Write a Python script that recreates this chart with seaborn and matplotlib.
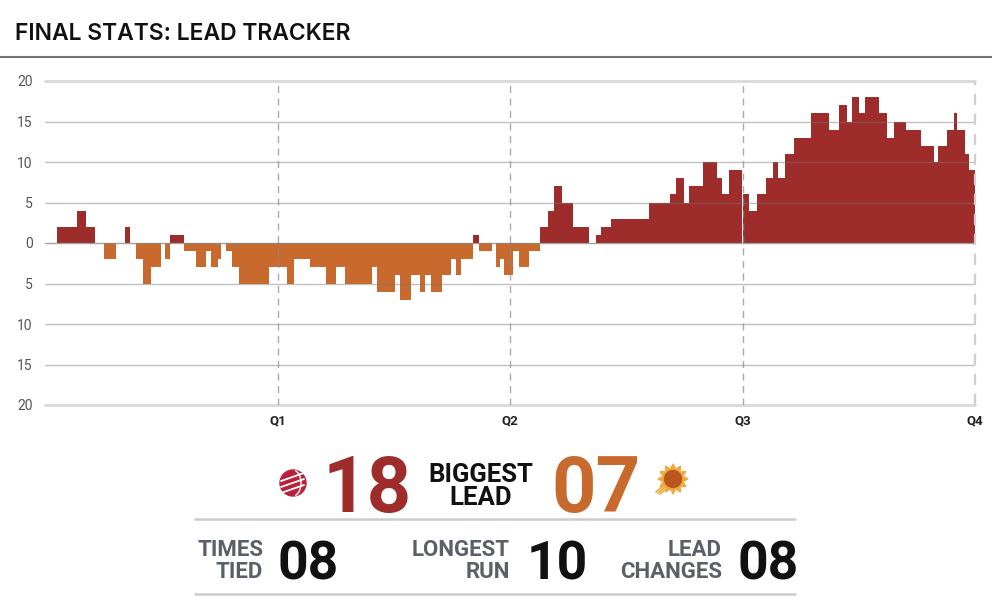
import numpy as np
import pandas as pd
import matplotlib.pyplot as plt
import matplotlib.patches as mpatches
import seaborn as sns

# lead tracker: game minute where each stretch starts, and Raptors margin (neg = Suns lead)
lead_start = [0.00, 0.60, 1.67, 2.10, 2.58, 3.05, 3.68, 4.13, 4.40, 4.71,
              5.07, 5.46, 5.97, 6.21, 6.45, 7.16, 7.81, 8.29, 8.58, 8.91,
              9.07, 9.34, 9.67, 10.03, 11.58, 12.51, 12.87, 13.68, 14.50, 15.02,
              15.48, 16.89, 17.15, 18.06, 18.34, 18.89, 19.35, 19.63, 19.92, 20.51,
              20.94, 21.23, 21.46, 22.11, 22.40, 23.09, 23.26, 23.48, 23.71, 24.17,
              24.46, 24.98, 25.55, 25.95, 26.26, 26.68, 27.25, 28.09, 28.42, 28.68,
              29.20, 31.17, 32.24, 32.57, 32.98, 33.24, 33.95, 34.68, 34.96, 35.29,
              36.00, 36.34, 36.73, 37.20, 37.59, 37.82, 38.21, 38.64, 39.52, 40.48,
              40.98, 41.38, 41.67, 42.03, 42.31, 43.03, 43.47, 43.80, 44.45, 45.21,
              45.87, 46.09, 46.57, 46.93, 47.07, 47.48, 47.71]
lead_margin = [0, 2, 4, 2, 0, -2, 0, 2, 0, -2,
               -5, -3, 0, -2, 1, -1, -3, -1, -3, -2,
               0, -1, -3, -5, -3, -5, -2, -3, -5, -3,
               -5, -3, -6, -4, -7, -4, -6, -4, -6, -4,
               -2, -4, -2, 1, -1, 0, -3, -2, -4, -1,
               -3, -1, 2, 4, 7, 5, 2, 0, 1, 2,
               3, 5, 6, 8, 5, 7, 10, 8, 6, 9,
               6, 4, 6, 8, 10, 8, 11, 13, 16, 14,
               17, 15, 18, 16, 18, 16, 13, 15, 14, 12,
               10, 12, 14, 16, 14, 11, 9]
game_end = 48.0

quarter_pos = [12, 24, 36, 48]
quarter_labels = ["Q1", "Q2", "Q3", "Q4"]
y_ticks = [-20, -15, -10, -5, 0, 5, 10, 15, 20]

biggest_lead = ["18", "07"]
stat_labels = [("TIMES", "TIED"), ("LONGEST", "RUN"), ("LEAD", "CHANGES")]
stat_values = ["08", "10", "08"]

RED = "#9e2c2a"
ORANGE = "#c86a2e"

edges = lead_start + [game_end]
df = pd.DataFrame({
    "start": lead_start,
    "end": edges[1:],
    "margin": lead_margin,
})
df["mid"] = (df["start"] + df["end"]) / 2
df["team"] = np.where(df["margin"] > 0, "TOR", "PHX")

sns.set_style("white")
plt.rcParams["font.family"] = ["Roboto", "DejaVu Sans"]

fig = plt.figure(figsize=(9.92, 6.07), dpi=100)
ax = fig.add_axes([45 / 992, 1 - 405 / 607, 930 / 992, 324 / 607])

team_colors = {"TOR": RED, "PHX": ORANGE}
for team, col in team_colors.items():
    sub = df[df["team"] == team]
    sns.histplot(data=sub, x="mid", weights="margin", bins=edges, color=col,
                 alpha=1, linewidth=0, antialiased=False, ax=ax, zorder=2)

# grid drawn over the bars
for yv in y_ticks:
    if abs(yv) == 20:
        ax.axhline(yv, color="#d9d9d9", lw=2, zorder=1, clip_on=False)
    elif yv == 0:
        ax.axhline(yv, color="#8a8a8a", lw=1, alpha=0.8, zorder=3)
    else:
        ax.axhline(yv, color="#777777", lw=1, alpha=0.45, zorder=3)
for q in quarter_pos:
    if q == game_end:
        ax.axvline(q, color="#cfcfcf", lw=1.6, ls=(0, (5, 4)), zorder=3, clip_on=False)
    else:
        ax.axvline(q, color="#8c8c8c", lw=1, alpha=0.75, ls=(0, (5, 4)), zorder=3)

ax.set_xlim(0, game_end)
ax.set_ylim(-20, 20)
ax.set_yticks(y_ticks)
ax.set_yticklabels([str(abs(v)) for v in y_ticks])
ax.set_xticks(quarter_pos)
ax.set_xticklabels(quarter_labels)
ax.tick_params(axis="y", length=0, pad=9, labelsize=10, labelcolor="#555555")
ax.tick_params(axis="x", length=0, pad=7, labelsize=9.5, labelcolor="#222222")
for lab in ax.get_xticklabels():
    lab.set_fontweight("bold")
ax.set_xlabel("")
ax.set_ylabel("")
sns.despine(ax=ax, left=True, bottom=True)

# overlay in pixel coordinates for header and stat panel
ov = fig.add_axes([0, 0, 1, 1], zorder=-1)
ov.set_xlim(0, 992)
ov.set_ylim(607, 0)
ov.axis("off")

ov.text(15, 40, "FINAL STATS: LEAD TRACKER", fontsize=16.5, fontweight="semibold",
        family=["Inter", "DejaVu Sans"], color="#111111", va="baseline", ha="left")
ov.plot([0, 992], [57, 57], color="#6e737a", lw=1.5)

# biggest lead row
ov.text(367, 512, biggest_lead[0], fontsize=56, fontweight="bold", color=RED,
        ha="center", va="baseline")
ov.text(596, 512, biggest_lead[1], fontsize=56, fontweight="bold", color=ORANGE,
        ha="center", va="baseline")
ov.text(481, 482, "BIGGEST", fontsize=18.5, fontweight="bold", color="#111111",
        ha="center", va="baseline")
ov.text(481, 505, "LEAD", fontsize=18.5, fontweight="bold", color="#111111",
        ha="center", va="baseline")

# rough team badges
ov.add_patch(mpatches.Circle((293, 483), 13, color="#b7223a", zorder=2))
for dy in (-7, -1, 5):
    ov.plot([281, 304], [483 + dy + 5, 483 + dy - 3], color="white", lw=1.3, zorder=3)
ov.add_patch(mpatches.Arc((293, 483), 16, 26, theta1=-80, theta2=80,
                          color="white", lw=1.0, zorder=3))
ray = np.linspace(0, 2 * np.pi, 25)
rr = np.where(np.arange(25) % 2 == 0, 15, 10)
ov.add_patch(mpatches.Polygon(np.c_[673 + rr * np.cos(ray), 479 + rr * np.sin(ray)],
                              color="#f2a93b", zorder=2))
ov.add_patch(mpatches.Circle((673, 479), 8.5, color="#b8561e", zorder=3))
for k in range(3):
    ov.plot([656 + 2 * k, 664 + 2 * k], [492 + k, 485 + k], color="#f2a93b", lw=1.2)

ov.plot([195, 795], [519, 519], color="#cccccc", lw=1.8)
ov.plot([195, 795], [594, 594], color="#cccccc", lw=1.8)

label_right = [263, 510, 722]
value_left = [278, 527, 737]
for (l1, l2), val, xr, xv in zip(stat_labels, stat_values, label_right, value_left):
    ov.text(xr, 556, l1, fontsize=16, fontweight="bold", color="#5b6068",
            ha="right", va="baseline")
    ov.text(xr, 578, l2, fontsize=16, fontweight="bold", color="#5b6068",
            ha="right", va="baseline")
    ov.text(xv, 580, val, fontsize=38.5, fontweight="bold", color="#111111",
            ha="left", va="baseline")

fig.savefig("out.png", dpi=100)
